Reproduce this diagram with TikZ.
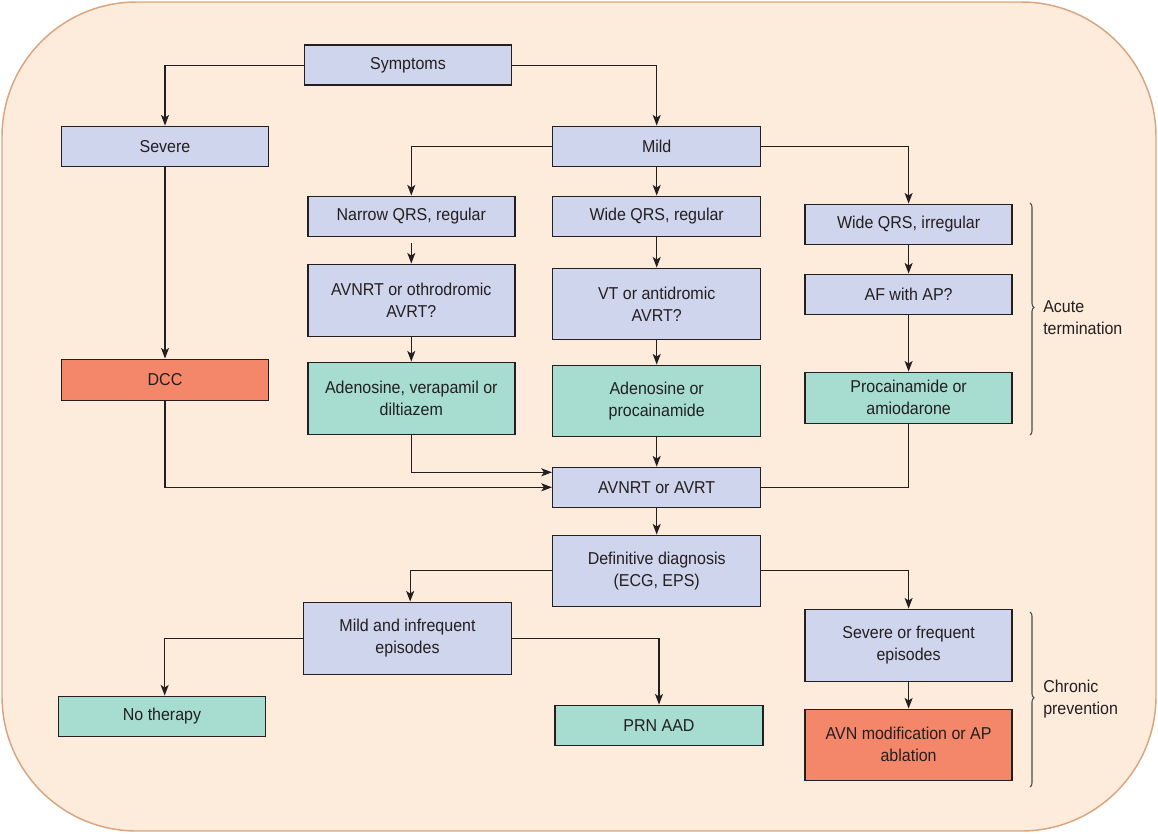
\documentclass[tikz,border=0pt]{standalone}
\usepackage{fontspec}
\setmainfont{Liberation Sans}[FakeStretch=0.93]
\usetikzlibrary{arrows.meta,decorations.pathreplacing}
\definecolor{bgfill}{HTML}{FDEBDC}
\definecolor{bgline}{HTML}{D9A57F}
\definecolor{bluebox}{HTML}{D0D5EE}
\definecolor{greenbox}{HTML}{A6DDD0}
\definecolor{redbox}{HTML}{F4866A}
\definecolor{ink}{HTML}{231F20}
\definecolor{bracecol}{HTML}{4D4D4D}
\tikzset{
  box/.style={draw=ink, line width=1.1pt, inner sep=0pt, align=center, text=ink,
    font=\fontsize{12.9pt}{16.5pt}\selectfont},
  sz/.style 2 args={minimum width=#1*0.75pt, minimum height=#2*0.75pt},
  bl/.style={box, fill=bluebox},
  gr/.style={box, fill=greenbox},
  rd/.style={box, fill=redbox},
  conn/.style={draw=ink, line width=1pt},
  arr/.style={conn, -{Stealth[length=8pt,width=6pt,inset=2pt]}},
  brc/.style={draw=bracecol, line width=0.8pt, decorate},
  lab/.style={anchor=west, inner sep=0pt, align=left, text=ink,
    font=\fontsize{12.9pt}{16.5pt}\selectfont}
}
\begin{document}
\begin{tikzpicture}[x=0.75pt,y=-0.75pt]
\useasboundingbox (0,0) rectangle (1158,833);
\draw[fill=bgfill, draw=bgline, line width=1.1pt, rounded corners=101pt] (2,2) rectangle (1156,831);

% row nodes
\node[bl, sz={207}{40}] (sym) at (408,65.2) {Symptoms};
\node[bl, sz={207}{40}] (sev) at (165,146.3) {Severe};
\node[bl, sz={208}{40}] (mild) at (656.7,146.3) {Mild};
\node[bl, sz={207}{40}] (nar) at (411.3,216.3) {Narrow QRS, regular};
\node[bl, sz={208}{40}] (wreg) at (656.7,216.3) {Wide QRS, regular};
\node[bl, sz={207}{40}] (wirr) at (908.6,224.3) {Wide QRS, irregular};
\node[bl, sz={207}{72}] (avq) at (411.3,300.3) {AVNRT or othrodromic\\AVRT?};
\node[bl, sz={208}{71}] (vt) at (656.7,303.8) {VT or antidromic\\AVRT?};
\node[bl, sz={207}{40}] (af) at (908.6,294.3) {AF with AP?};
\node[rd, sz={207}{41}] (dcc) at (165,379.8) {DCC};
\node[gr, sz={207}{72}] (adv) at (411.3,398.3) {Adenosine, verapamil or\\diltiazem};
\node[gr, sz={208}{71}] (adp) at (656.7,400.8) {Adenosine or\\procainamide};
\node[gr, sz={207}{51}] (proc) at (908.6,397.8) {Procainamide or\\amiodarone};
\node[bl, sz={208}{40}] (avr) at (656.7,487.3) {AVNRT or AVRT};
\node[bl, sz={208}{71}] (def) at (656.7,570.8) {Definitive diagnosis\\(ECG, EPS)};
\node[bl, sz={208}{72}] (mi) at (407.5,638.3) {Mild and infrequent\\episodes};
\node[bl, sz={207}{72}] (sf) at (908.6,645.3) {Severe or frequent\\episodes};
\node[gr, sz={207}{40}] (not) at (162,716.3) {No therapy};
\node[gr, sz={208}{40}] (prn) at (659,725.3) {PRN AAD};
\node[rd, sz={207}{71}] (avn) at (908.6,744.8) {AVN modification or AP\\ablation};

% connectors
\draw[arr] (sym.west) -| (sev.north);
\draw[arr] (sym.east) -| (mild.north);
\draw[arr] (mild.west) -| (nar.north);
\draw[arr] (mild.south) -- (wreg.north);
\draw[arr] (mild.east) -| (wirr.north);
\draw[arr, shorten <=4.5pt] (nar.south) -- (avq.north);
\draw[arr] (avq.south) -- (adv.north);
\draw[arr] (wreg.south) -- (vt.north);
\draw[arr] (vt.south) -- (adp.north);
\draw[arr] (wirr.south) -- (af.north);
\draw[arr] (af.south) -- (proc.north);
\draw[arr] (sev.south) -- (dcc.north);
\draw[arr] (adp.south) -- (avr.north);
\draw[arr] (dcc.south) |- (avr.west);
\draw[arr] (adv.south) |- ([yshift=11.25pt]avr.west);
\draw[conn] (proc.south) |- (avr.east);
\draw[arr] (avr.south) -- (def.north);
\draw[arr] (def.west) -| ([xshift=2pt]mi.north);
\draw[arr] (def.east) -| (sf.north);
\draw[arr] (mi.west) -| ([xshift=2pt]not.north);
\draw[arr] (mi.east) -| (prn.north);
\draw[arr] (sf.south) -- (avn.north);

% braces
\coordinate (b1t) at (1030,203);
\coordinate (b1b) at (1030,435);
\coordinate (b2t) at (1030,612);
\coordinate (b2b) at (1030,787);
\draw[brc, decoration={brace, amplitude=3pt, aspect=0.45}] (b1t) -- (b1b);
\draw[brc, decoration={brace, amplitude=3pt, aspect=0.49}] (b2t) -- (b2b);
\node[lab] (acute) at (1043,317.5) {Acute\\termination};
\node[lab] (chron) at (1043,699) {Chronic\\prevention};
\end{tikzpicture}
\end{document}
